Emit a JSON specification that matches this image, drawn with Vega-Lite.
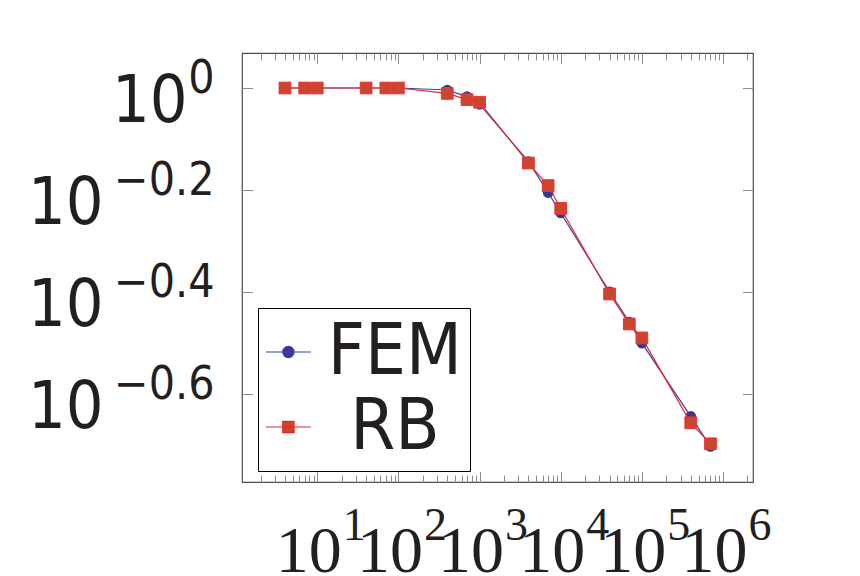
{
  "$schema": "https://vega.github.io/schema/vega-lite/v6.json",
  "width": 511,
  "height": 429,
  "autosize": {"type": "none"},
  "padding": {"left": 242, "top": 53, "right": 107, "bottom": 94},
  "background": "white",
  "config": {
    "view": {"stroke": "#4d4d4d", "strokeWidth": 1.2},
    "axis": {
      "domain": false, "grid": false, "labelOverlap": false, "labelFlush": false,
      "labelBound": false, "title": null, "tickColor": "#8c8c8c", "tickWidth": 1,
      "labelColor": "#231f20", "labelLimit": 0
    }
  },
  "data": {
    "values": [
      {"n": 4, "err": 1, "series": "FEM"},
      {"n": 7, "err": 1, "series": "FEM"},
      {"n": 10, "err": 1, "series": "FEM"},
      {"n": 40, "err": 1, "series": "FEM"},
      {"n": 70, "err": 1, "series": "FEM"},
      {"n": 100, "err": 1, "series": "FEM"},
      {"n": 400, "err": 0.991, "series": "FEM"},
      {"n": 700, "err": 0.962, "series": "FEM"},
      {"n": 1000, "err": 0.929, "series": "FEM"},
      {"n": 4000, "err": 0.718, "series": "FEM"},
      {"n": 7000, "err": 0.624, "series": "FEM"},
      {"n": 10000, "err": 0.569, "series": "FEM"},
      {"n": 40000, "err": 0.399, "series": "FEM"},
      {"n": 70000, "err": 0.348, "series": "FEM"},
      {"n": 100000, "err": 0.3165, "series": "FEM"},
      {"n": 400000, "err": 0.2275, "series": "FEM"},
      {"n": 700000, "err": 0.1986, "series": "FEM"},
      {"n": 4, "err": 1, "series": "RB"},
      {"n": 7, "err": 1, "series": "RB"},
      {"n": 10, "err": 1, "series": "RB"},
      {"n": 40, "err": 1, "series": "RB"},
      {"n": 70, "err": 1, "series": "RB"},
      {"n": 100, "err": 1, "series": "RB"},
      {"n": 400, "err": 0.976, "series": "RB"},
      {"n": 700, "err": 0.949, "series": "RB"},
      {"n": 1000, "err": 0.938, "series": "RB"},
      {"n": 4000, "err": 0.713, "series": "RB"},
      {"n": 7000, "err": 0.644, "series": "RB"},
      {"n": 10000, "err": 0.581, "series": "RB"},
      {"n": 40000, "err": 0.395, "series": "RB"},
      {"n": 70000, "err": 0.345, "series": "RB"},
      {"n": 100000, "err": 0.324, "series": "RB"},
      {"n": 400000, "err": 0.221, "series": "RB"},
      {"n": 700000, "err": 0.201, "series": "RB"}
    ]
  },
  "layer": [
    {
      "transform": [{"filter": "datum.series === 'FEM'"}],
      "mark": {"type": "line", "strokeWidth": 1.2},
      "encoding": {
        "x": {
          "field": "n", "type": "quantitative",
          "scale": {"type": "log", "domain": [1.183, 2340000], "nice": false},
          "axis": {
            "orient": "bottom", "values": [10, 100, 1000, 10000, 100000, 1000000],
            "labelExpr": "'10'", "ticks": false, "labelAlign": "right", "labelBaseline": "alphabetic",
            "labelOffset": 24, "labelPadding": 89, "labelFontSize": 66, "labelFont": "Liberation Serif"
          }
        },
        "y": {
          "field": "err", "type": "quantitative",
          "scale": {"type": "log", "domain": [0.1692, 1.171], "nice": false},
          "axis": {
            "orient": "left", "values": [1, 0.630957, 0.398107, 0.251189],
            "labelExpr": "'10'", "ticks": false, "labelAlign": "right", "labelBaseline": "alphabetic",
            "labelOffset": 33,
            "labelPadding": {"condition": {"test": "datum.value > 0.9", "value": 55}, "value": 139},
            "labelFontSize": 66, "labelFont": "DejaVu Sans Condensed"
          }
        },
        "color": {
          "field": "series", "type": "nominal",
          "scale": {"domain": ["FEM", "RB"], "range": ["#3f3f9f", "#e8262b"]},
          "legend": {
            "orient": "none", "legendX": 16, "legendY": 255, "direction": "vertical", "title": null,
            "fillColor": "white", "strokeColor": "black", "padding": 8,
            "symbolSize": 2025, "symbolStrokeWidth": 1.2, "symbolOffset": -13.6,
            "labelFont": "DejaVu Sans Condensed", "labelFontSize": 72, "labelColor": "#231f20",
            "labelExpr": "datum.label + '\u2006\u2009'",
            "labelAlign": "center", "labelOffset": 70.5, "labelLimit": 0, "rowPadding": 3,
            "encode": {
              "symbols": {
                "update": {
                  "shape": {"signal": "datum.value === 'FEM' ? 'M-1,0H1M-0.25,0A0.25,0.25,0,1,1,0.25,0A0.25,0.25,0,1,1,-0.25,0Z' : 'M-1,0H1M-0.25,-0.25H0.25V0.25H-0.25Z'"},
                  "fill": {"signal": "datum.value === 'FEM' ? '#383890' : '#cc4530'"},
                  "stroke": {"signal": "datum.value === 'FEM' ? '#3f3f9f' : '#e8262b'"},
                  "strokeWidth": {"value": 1.2},
                  "opacity": {"value": 1},
                  "fillOpacity": {"value": 1}
                }
              }
            }
          }
        }
      }
    },
    {
      "transform": [{"filter": "datum.series === 'FEM'"}],
      "mark": {"type": "point", "shape": "circle", "filled": true, "size": 113, "color": "#383890", "opacity": 1},
      "encoding": {
        "x": {
          "field": "n", "type": "quantitative",
          "scale": {"type": "log", "domain": [1.183, 2340000], "nice": false},
          "axis": {
            "orient": "bottom", "values": [10, 100, 1000, 10000, 100000, 1000000],
            "labelExpr": "format(round(log(datum.value)/LN10), 'd')", "ticks": false,
            "labelAlign": "left", "labelBaseline": "alphabetic",
            "labelOffset": 25, "labelPadding": 57, "labelFontSize": 46, "labelFont": "Liberation Serif"
          }
        },
        "y": {
          "field": "err", "type": "quantitative",
          "scale": {"type": "log", "domain": [0.1692, 1.171], "nice": false},
          "axis": {
            "orient": "left", "values": [1, 0.630957, 0.398107, 0.251189],
            "labelExpr": "datum.value > 0.9 ? '0' : '\u2212' + format(-log(datum.value)/LN10, '.1f')",
            "ticks": false, "labelAlign": "right", "labelBaseline": "alphabetic",
            "labelOffset": 4, "labelPadding": 28, "labelFontSize": 46, "labelFont": "DejaVu Sans Condensed"
          }
        }
      }
    },
    {
      "transform": [{"filter": "datum.series === 'RB'"}],
      "mark": {"type": "line", "strokeWidth": 1.2, "color": "#e8262b"},
      "encoding": {
        "x": {
          "field": "n", "type": "quantitative",
          "scale": {"type": "log", "domain": [1.183, 2340000], "nice": false},
          "axis": {
            "orient": "bottom", "labels": false,
            "values": [2,3,4,5,6,7,8,9,10,20,30,40,50,60,70,80,90,100,200,300,400,500,600,700,800,900,1000,2000,3000,4000,5000,6000,7000,8000,9000,10000,20000,30000,40000,50000,60000,70000,80000,90000,100000,200000,300000,400000,500000,600000,700000,800000,900000,1000000,2000000],
            "tickSize": {"condition": {"test": "abs(log(datum.value)/LN10 - round(log(datum.value)/LN10)) < 0.001", "value": -10.5}, "value": -7}
          }
        },
        "y": {
          "field": "err", "type": "quantitative",
          "scale": {"type": "log", "domain": [0.1692, 1.171], "nice": false},
          "axis": {"orient": "left", "labels": false, "values": [1, 0.630957, 0.398107, 0.251189], "tickSize": -10.5}
        }
      }
    },
    {
      "transform": [{"filter": "datum.series === 'RB'"}],
      "mark": {"type": "point", "shape": "square", "filled": true, "size": 137, "fill": "#cc4530", "stroke": "#ee3035", "strokeWidth": 1, "opacity": 1},
      "encoding": {
        "x": {
          "field": "n", "type": "quantitative",
          "scale": {"type": "log", "domain": [1.183, 2340000], "nice": false},
          "axis": {
            "orient": "top", "labels": false,
            "values": [2,3,4,5,6,7,8,9,10,20,30,40,50,60,70,80,90,100,200,300,400,500,600,700,800,900,1000,2000,3000,4000,5000,6000,7000,8000,9000,10000,20000,30000,40000,50000,60000,70000,80000,90000,100000,200000,300000,400000,500000,600000,700000,800000,900000,1000000,2000000],
            "tickSize": {"condition": {"test": "abs(log(datum.value)/LN10 - round(log(datum.value)/LN10)) < 0.001", "value": -10.5}, "value": -7}
          }
        },
        "y": {
          "field": "err", "type": "quantitative",
          "scale": {"type": "log", "domain": [0.1692, 1.171], "nice": false},
          "axis": {"orient": "right", "labels": false, "values": [1, 0.630957, 0.398107, 0.251189], "tickSize": -10.5}
        }
      }
    }
  ],
  "resolve": {"axis": {"x": "independent", "y": "independent"}, "scale": {"x": "shared", "y": "shared"}}
}
